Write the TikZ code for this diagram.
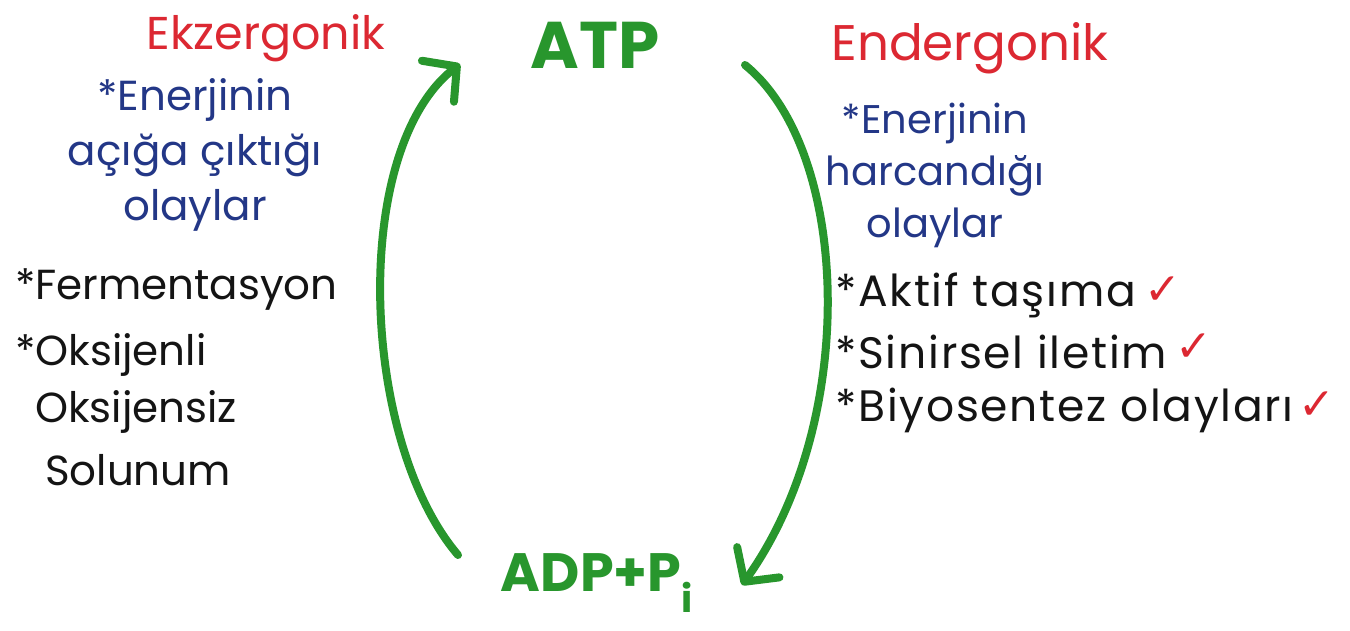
\documentclass[tikz,border=0pt]{standalone}
\usepackage{fontspec}
\setmainfont{Poppins}
\newfontfamily\symfont{DejaVu Sans}
\usetikzlibrary{arrows.meta}
\definecolor{hred}{RGB}{220,40,50}
\definecolor{hblue}{RGB}{35,55,135}
\definecolor{hblack}{RGB}{20,20,20}
\definecolor{hgreen}{RGB}{40,150,45}
\tikzset{
  title/.style={text=hred,font=\fontsize{46}{46}\selectfont,inner sep=0pt},
  bluetxt/.style={text=hblue,align=center,inner sep=0pt},
  item/.style={text=hblack,font=\fontsize{42}{42}\selectfont,anchor=west,inner sep=0pt},
  ritem/.style={item,font=\fontsize{44}{44}\selectfont\addfontfeatures{LetterSpace=4}},
  molecule/.style={text=hgreen,font=\bfseries\fontsize{66}{66}\selectfont,inner sep=0pt},
  cycle/.style={draw=hgreen,line width=8pt,line cap=round,-{Straight Barb[length=24pt,width=52pt,round]}},
  tick/.style={text=hred,font=\symfont\bfseries\fontsize{44}{44}\selectfont,inner sep=0pt}
}
\begin{document}
\begin{tikzpicture}[x=1pt,y=-1pt]
\useasboundingbox[fill=white] (0,0) rectangle (1350,631);
% titles
\node[title] (ekz) at (266,38) {Ekzergonik};
\node[title,font=\fontsize{50}{50}\selectfont] (end) at (970,48) {Endergonik};
% left blue
\node[bluetxt,font=\fontsize{42}{55}\selectfont] (lblue) at (195,155) {*Enerjinin\\açığa çıktığı\\olaylar};
% right blue
\node[bluetxt,font=\fontsize{40}{52}\selectfont] (rblue) at (935,175) {*Enerjinin\\harcandığı\\olaylar};
% left items
\node[item] (ferm) at (15,290) {*Fermentasyon};
\node[item] (oks1) at (15,355) {*Oksijenli};
\node[item] (oks2) at (35,412) {Oksijensiz};
\node[item] (sol) at (45,470) {Solunum};
% right items
\node[ritem] (akt) at (835,295) {*Aktif taşıma};
\node[ritem] (sin) at (835,352) {*Sinirsel iletim};
\node[ritem] (biy) at (835,410) {*Biyosentez olayları};
\node[tick,anchor=west] (t1) at ([xshift=8pt,yshift=4pt]akt.east) {✓};
\node[tick,anchor=west] (t2) at ([xshift=8pt,yshift=4pt]sin.east) {✓};
\node[tick,anchor=west] (t3) at ([xshift=4pt,yshift=4pt]biy.east) {✓};
% molecules
\node[molecule] (atp) at (595,45) {ATP};
\node[molecule,font=\bfseries\fontsize{54}{54}\selectfont] (adp) at (597,583) {ADP+P\textsubscript{i}};
% cycle ends
\coordinate (adpL) at (458,555);
\coordinate (atpL) at (460,64);
\coordinate (atpR) at (745,65);
\coordinate (adpR) at (742,585);
\draw[cycle] (adpL) .. controls (360,440) and (350,150) .. (atpL);
\draw[cycle] (atpR) .. controls (850,150) and (860,420) .. (adpR);
\end{tikzpicture}
\end{document}
